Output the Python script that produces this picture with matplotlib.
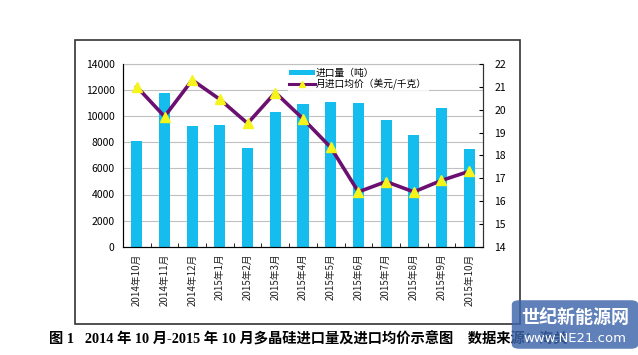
import matplotlib.pyplot as plt
from matplotlib.patches import Rectangle, Patch, FancyBboxPatch
from matplotlib.lines import Line2D

plt.rcParams['font.family'] = ['Noto Sans CJK SC', 'DejaVu Sans']

# data
months = ['2014年10月', '2014年11月', '2014年12月', '2015年1月', '2015年2月',
          '2015年3月', '2015年4月', '2015年5月', '2015年6月', '2015年7月',
          '2015年8月', '2015年9月', '2015年10月']
volume = [8100, 11750, 9220, 9350, 7590, 10320, 10920, 11120, 11000,
          9700, 8580, 10650, 7500]
price = [21.0, 19.7, 21.3, 20.45, 19.4, 20.75, 19.6, 18.35, 16.4,
         16.85, 16.4, 16.9, 17.3]

bar_color = '#14BDEE'
line_color = '#6B1070'
marker_color = '#F5F51A'

fig = plt.figure(figsize=(6.38, 3.55), dpi=100)

# outer frame
fig.patches.append(Rectangle((75 / 638, 1 - 324 / 355), 445 / 638, 284 / 355,
                             transform=fig.transFigure, fill=False,
                             edgecolor='#333333', linewidth=1.2))

ax = fig.add_axes([123 / 638, 1 - 246.7 / 355, 360 / 638, 182.7 / 355])
x = range(len(months))
ax.bar(x, volume, width=0.4, color=bar_color, zorder=2)
ax.set_ylim(0, 14000)
ax.set_xlim(-0.5, len(months) - 0.5)
ax.set_yticks(range(0, 14001, 2000))
ax.yaxis.grid(True, color='#c0c0c0', linewidth=0.8, zorder=0)
ax.set_axisbelow(True)
ax.set_xticks(list(x))
ax.set_xticklabels(months, rotation=90, fontsize=7, color='#222222')
ax.set_xticks([i + 0.5 for i in range(len(months) - 1)], minor=True)
ax.tick_params(axis='x', which='major', length=0, pad=5)
ax.tick_params(axis='x', which='minor', length=3, direction='in')
ax.tick_params(axis='y', length=0, labelsize=7.5, pad=6)
ax.spines['top'].set_color('#c0c0c0')
ax.spines['left'].set_color('#333333')
ax.spines['bottom'].set_color('#333333')
ax.spines['right'].set_color('#333333')

ax2 = ax.twinx()
ax2.plot(x, price, color=line_color, linewidth=2.6, marker='^',
         markersize=7, markerfacecolor=marker_color,
         markeredgecolor=marker_color, zorder=3)
ax2.set_ylim(14, 22)
ax2.set_yticks(range(14, 23))
ax2.tick_params(axis='y', length=3, direction='in', labelsize=7.5, pad=8)
ax2.spines['top'].set_visible(False)
ax2.spines['right'].set_color('#333333')

handles = [Patch(facecolor=bar_color, edgecolor='none'),
           Line2D([0], [0], color=line_color, linewidth=2.2, marker='^',
                  markersize=4, markerfacecolor=marker_color,
                  markeredgecolor=marker_color)]
leg = ax2.legend(handles, ['进口量（吨）', '月进口均价（美元/千克）'],
                 loc='upper left', bbox_to_anchor=(0.458, 0.985),
                 frameon=True, fontsize=7, handlelength=2.6,
                 handleheight=0.35, labelspacing=0.05, borderpad=0.15,
                 handletextpad=0.15, borderaxespad=0)
leg.get_frame().set_edgecolor('none')
leg.get_frame().set_facecolor('white')
leg.get_frame().set_boxstyle('square', pad=0)

# caption (partly under the translucent watermark, as in the source)
fig.text(49 / 638, 1 - 339 / 355,
         '图 1   2014 年 10 月-2015 年 10 月多晶硅进口量及进口均价示意图    数据来源：海关',
         fontsize=10.3, fontweight='bold', va='center', ha='left',
         family=['Liberation Serif', 'Noto Sans CJK SC'])

# watermark box
fig.patches.append(FancyBboxPatch((515 / 638, 8 / 355), 120 / 638, 45 / 355,
                                  boxstyle='round,pad=0.005,rounding_size=0.012',
                                  transform=fig.transFigure, facecolor='#3d64aa',
                                  edgecolor='none', alpha=0.82, zorder=5))
fig.text(575 / 638, 1 - 317 / 355, '世纪新能源网', color='white', fontsize=13,
         fontweight='bold', ha='center', va='center', zorder=6)
fig.text(575 / 638, 1 - 338 / 355, 'www.NE21.com', color='white', fontsize=9.5,
         ha='center', va='center', zorder=6, family='DejaVu Sans')

fig.savefig('out.png', dpi=100)
